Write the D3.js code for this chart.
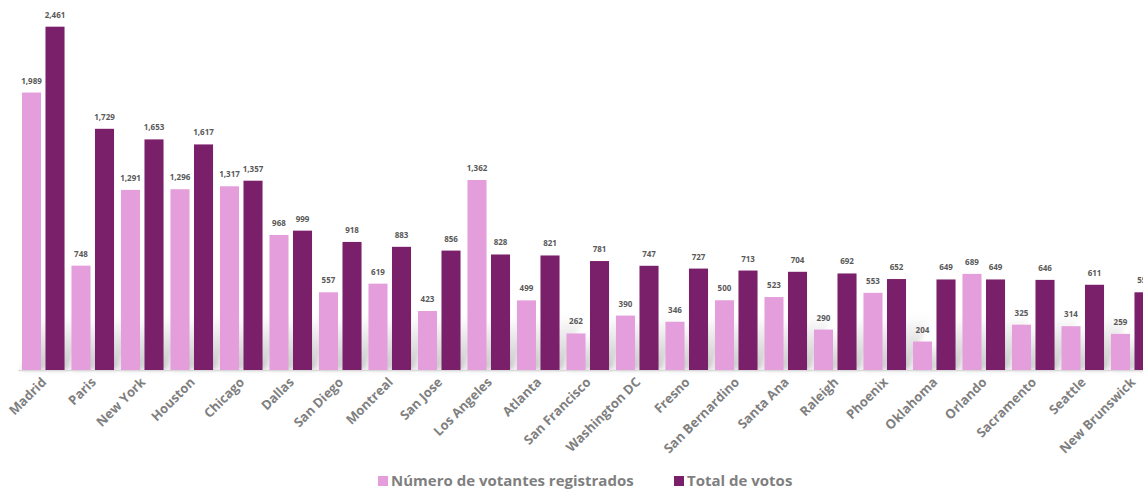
<!DOCTYPE html>
<html>
<head>
<meta charset="utf-8">
<script src="https://cdn.jsdelivr.net/npm/d3@7"></script>
<style>
  body { margin: 0; background: #fff; overflow: hidden; }
  svg { display: block; font-family: "Open Sans", "DejaVu Sans", sans-serif; }
</style>
</head>
<body>
<div id="viz"></div>
<script>
const cities = ["Madrid", "Paris", "New York", "Houston", "Chicago", "Dallas", "San Diego", "Montreal",
  "San Jose", "Los Angeles", "Atlanta", "San Francisco", "Washington DC", "Fresno", "San Bernardino",
  "Santa Ana", "Raleigh", "Phoenix", "Oklahoma", "Orlando", "Sacramento", "Seattle", "New Brunswick"];
const registrados = [1989, 748, 1291, 1296, 1317, 968, 557, 619, 423, 1362, 499, 262, 390, 346, 500,
  523, 290, 553, 204, 689, 325, 314, 259];
const votos = [2461, 1729, 1653, 1617, 1357, 999, 918, 883, 856, 828, 821, 781, 747, 727, 713,
  704, 692, 652, 649, 649, 646, 611, 557];
const seriesNames = ["Número de votantes registrados", "Total de votos"];
const seriesColors = ["#e59edc", "#7a1f69"];

const width = 1143;
const height = 493;
const baseY = 370;

const rows = cities.map((c, i) => ({ city: c, values: [registrados[i], votos[i]] }));

const svg = d3.select("#viz").append("svg")
  .attr("width", width)
  .attr("height", height);

const defs = svg.append("defs");
defs.append("filter").attr("id", "blur")
  .attr("x", "-50%").attr("y", "-50%").attr("width", "200%").attr("height", "200%")
  .append("feGaussianBlur").attr("stdDeviation", 2.5);

const grad = defs.append("linearGradient").attr("id", "fade")
  .attr("x1", 0).attr("y1", 1).attr("x2", 0).attr("y2", 0);
grad.append("stop").attr("offset", "0%").attr("stop-color", "#999").attr("stop-opacity", 0.55);
grad.append("stop").attr("offset", "100%").attr("stop-color", "#999").attr("stop-opacity", 0);

const x0 = d3.scaleBand()
  .domain(cities)
  .range([18.5, 1157])
  .paddingInner(0.14)
  .paddingOuter(0.07);

const x1 = d3.scaleBand()
  .domain([0, 1])
  .range([0, x0.bandwidth()])
  .paddingInner(0.19);

const y = d3.scaleLinear()
  .domain([0, 2500])
  .range([baseY, baseY - 2500 * 0.1395]);

// soft slanted shadow behind bars
const shadow = svg.append("g").attr("filter", "url(#blur)");
rows.forEach(r => {
  r.values.forEach((v, s) => {
    const bx = x0(r.city) + x1(s);
    const h = Math.min(baseY - y(v), 55);
    const w = x1.bandwidth();
    shadow.append("path")
      .attr("d", `M${bx},${baseY} L${bx + w + 3},${baseY} L${bx + w + 3 + h * 0.4},${baseY - h} L${bx + h * 0.4},${baseY - h}Z`)
      .attr("fill", "url(#fade)");
  });
});

// axis line
svg.append("line")
  .attr("x1", 18.5).attr("x2", width)
  .attr("y1", baseY + 0.5).attr("y2", baseY + 0.5)
  .attr("stroke", "#d9d9d9")
  .attr("stroke-width", 1.5);

const groups = svg.selectAll("g.city")
  .data(rows)
  .enter()
  .append("g")
  .attr("class", "city")
  .attr("transform", d => `translate(${x0(d.city)},0)`);

groups.selectAll("rect")
  .data(d => d.values.map((v, s) => ({ v, s })))
  .enter()
  .append("rect")
  .attr("x", d => x1(d.s))
  .attr("y", d => y(d.v))
  .attr("width", x1.bandwidth())
  .attr("height", d => baseY - y(d.v))
  .attr("fill", d => seriesColors[d.s]);

groups.selectAll("text.val")
  .data(d => d.values.map((v, s) => ({ v, s })))
  .enter()
  .append("text")
  .attr("class", "val")
  .attr("x", d => x1(d.s) + x1.bandwidth() / 2)
  .attr("y", d => y(d.v) - 9)
  .attr("text-anchor", "middle")
  .attr("font-size", 8)
  .attr("font-weight", 700)
  .attr("fill", "#595959")
  .text(d => d3.format(",")(d.v));

// category labels
svg.selectAll("text.cat")
  .data(cities)
  .enter()
  .append("text")
  .attr("class", "cat")
  .attr("transform", d => `translate(${x0(d) + x0.bandwidth() / 2 + 4},${baseY + 13}) rotate(-45)`)
  .attr("text-anchor", "end")
  .attr("font-size", 13)
  .attr("font-weight", 700)
  .attr("fill", "#7f7f7f")
  .text(d => d);

// legend
const legendX = [378, 674];
const legend = svg.selectAll("g.legend")
  .data(seriesNames)
  .enter()
  .append("g")
  .attr("class", "legend")
  .attr("transform", (d, i) => `translate(${legendX[i]},486)`);

legend.append("rect")
  .attr("x", 0).attr("y", -10)
  .attr("width", 10).attr("height", 10)
  .attr("fill", (d, i) => seriesColors[i]);

legend.append("text")
  .attr("x", 13)
  .attr("y", 0)
  .attr("font-size", 15)
  .attr("font-weight", 700)
  .attr("fill", "#7f7f7f")
  .text(d => d);
</script>
</body>
</html>
